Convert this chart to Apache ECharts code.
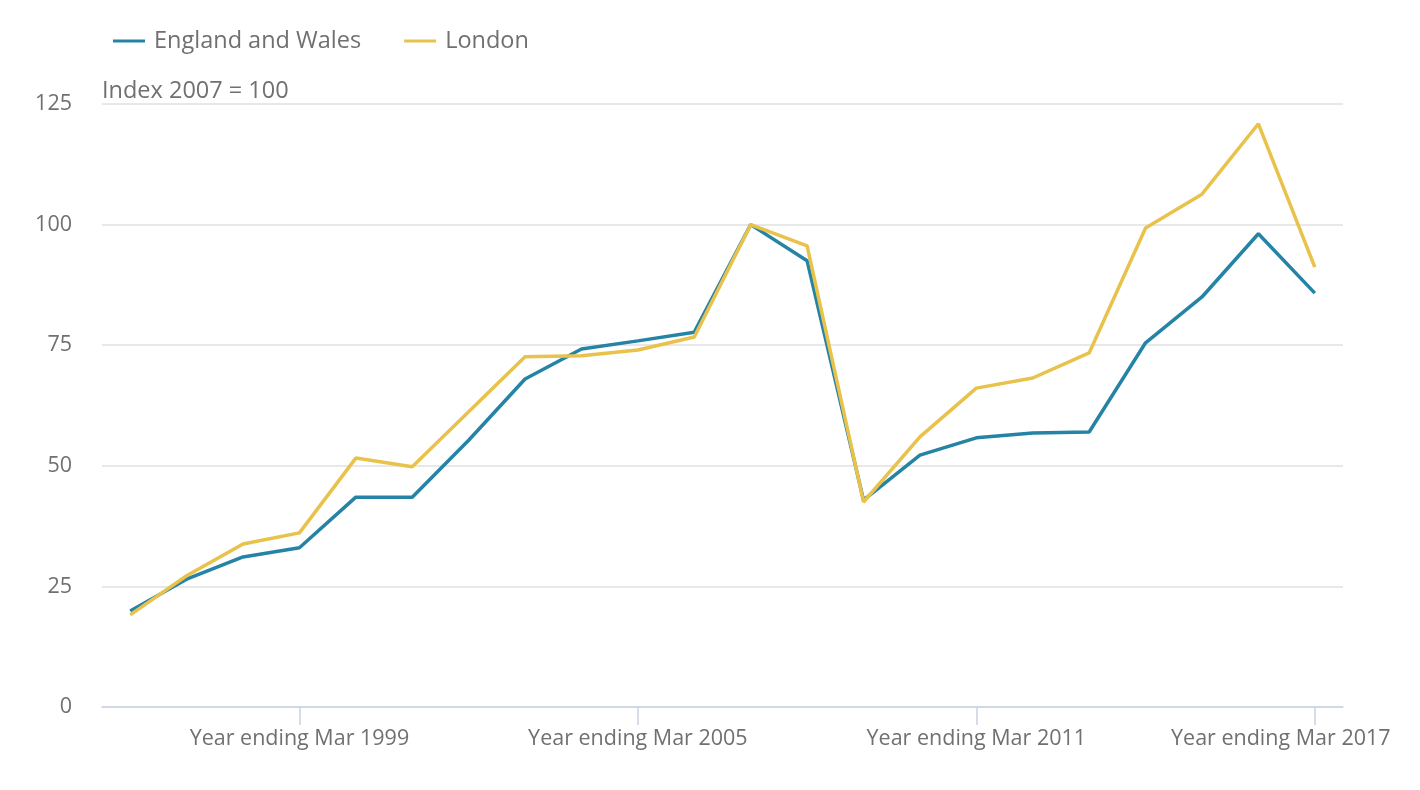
<!DOCTYPE html>
<html><head><meta charset="utf-8">
<script src="https://cdn.jsdelivr.net/npm/echarts@6/dist/echarts.min.js"></script>
<style>html,body{margin:0;padding:0;background:#fff}#c{width:1420px;height:790px}</style>
</head><body><div id="c"></div>
<script>
var years = [];
for (var y = 1996; y <= 2017; y++) years.push('Year ending Mar ' + y);
var englandWales = [19.9,26.5,31.1,33.0,43.5,43.5,55.3,68.0,74.2,75.9,77.7,100,92.5,42.9,52.2,55.8,56.8,57.0,75.5,85.0,98.1,85.8];
var london = [19.1,27.2,33.8,36.1,51.6,49.8,61.2,72.6,72.8,74.0,76.7,100,95.6,42.5,56.0,66.1,68.2,73.4,99.3,106.3,120.9,91.2];
var yTicks = [0,25,50,75,100,125];

var chart = echarts.init(document.getElementById('c'));
var font = '"Open Sans", sans-serif';
function showIdx(i){ return (i-3)%6===0; }
chart.setOption({
  animation: false,
  textStyle: {fontFamily: font},
  legend: {
    left: 108, top: 24, itemWidth: 32, itemHeight: 3, itemGap: 43,
    icon: 'rect',
    textStyle: {fontSize: 23.5, color: '#707070', fontFamily: font, padding: [0,0,0,4]},
    data: ['England and Wales', 'London']
  },
  grid: {left: 102, right: 77, top: 104, bottom: 83, containLabel: false},
  xAxis: {
    type: 'category', data: years, boundaryGap: true,
    axisLine: {lineStyle: {color: '#c7d1e6', width: 1.5}},
    axisTick: {show: true, alignWithLabel: true, length: 18, interval: showIdx, lineStyle: {color: '#c7d1e6', width: 1.5}},
    axisLabel: {
      interval: showIdx, color: '#707070', fontSize: 21.5, margin: 21, fontFamily: font,
      formatter: function(v, i){ return i === years.length - 1 ? '{last|' + v + '}' : v; },
      rich: {last: {padding: [0, 68, 0, 0], fontSize: 21.5, color: '#707070', fontFamily: font}}
    }
  },
  yAxis: {
    type: 'value', min: 0, max: 125, interval: 25,
    name: 'Index 2007 = 100', nameLocation: 'end', nameGap: 1,
    nameTextStyle: {align: 'left', color: '#707070', fontSize: 23.5, fontFamily: font},
    axisLine: {show: false}, axisTick: {show: false},
    axisLabel: {color: '#707070', fontSize: 21.5, margin: 30, fontFamily: font},
    splitLine: {lineStyle: {color: '#e0e0e0', width: 1.5}}
  },
  series: [
    {name: 'England and Wales', type: 'line', data: englandWales, symbol: 'none', lineStyle: {color: '#2583a6', width: 3.5}, itemStyle: {color: '#2583a6'}},
    {name: 'London', type: 'line', data: london, symbol: 'none', lineStyle: {color: '#e8c24a', width: 3.5}, itemStyle: {color: '#e8c24a'}}
  ]
});
</script></body></html>
